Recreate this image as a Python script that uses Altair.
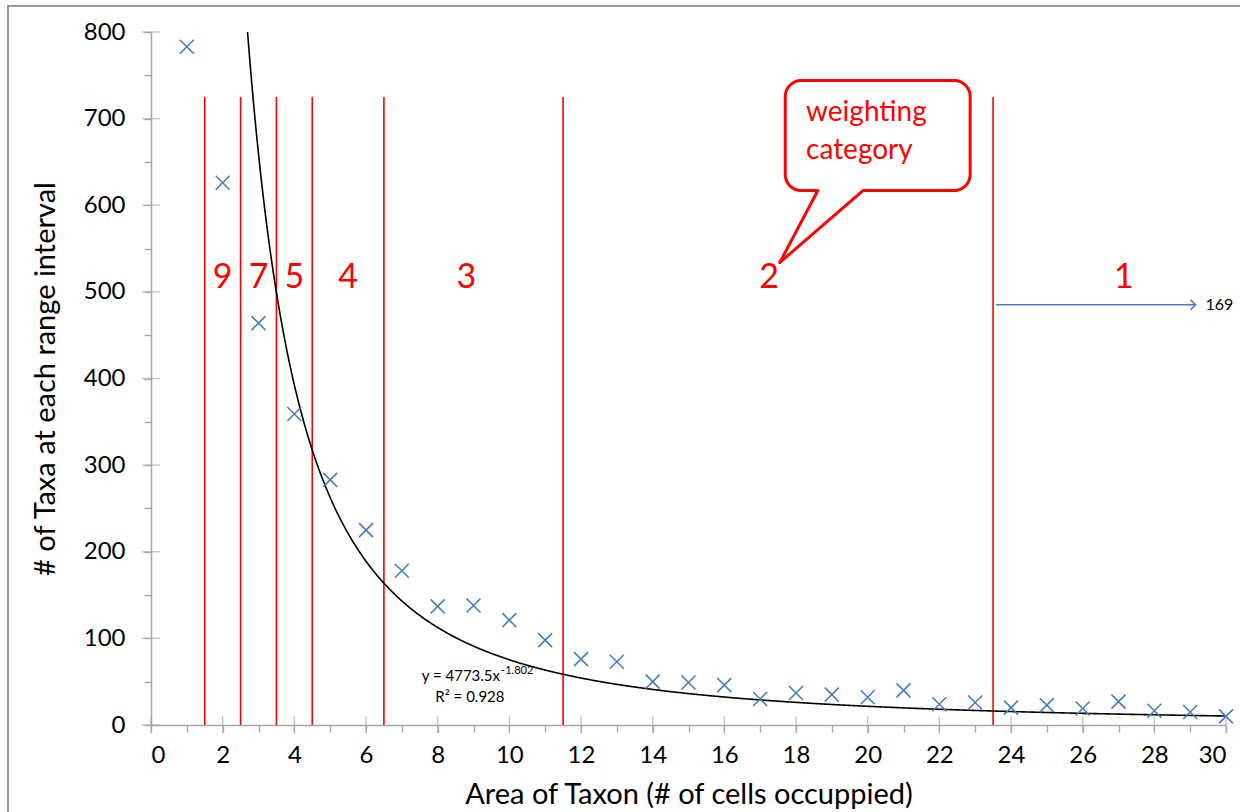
import altair as alt
import pandas as pd

# ---- data ----
area = list(range(1, 31))
taxa = [783, 626, 464, 359, 283, 225, 178, 137, 138, 121, 98, 76, 73, 50, 49,
        46, 30, 37, 35, 32, 40, 24, 26, 20, 23, 19, 27, 16.5, 15, 10]

# power trend line coefficients (as printed on chart)
fit_a = 4773.5
fit_b = -1.802

# weighting category boundaries and labels
boundaries = [1.5, 2.5, 3.5, 4.5, 6.5, 11.5, 23.5]
boundary_top = 725
cat_labels = ["9", "7", "5", "4", "3", "2", "1"]
cat_x = [2, 3, 4, 5.5, 8.8, 17.25, 27.15]
cat_y = 516

# arrow for category 1
arrow_x = [23.58, 29.15]
arrow_y = 485
arrow_label = "169"

# callout bubble
bubble_x = [17.7, 22.86]
bubble_y = [617, 744]
tail_base_x = [18.61, 19.87]
tail_tip = (17.55, 534)
bubble_text = ["weighting", "category"]
bubble_text_y = [707, 663]

# equation text
eq_main = "y = 4773.5x"
eq_sup = "-1.802"
eq_r2 = "R² = 0.928"

FONT = "Lato"
GRAY = "#a6a6a6"
BLUE = "#4a7ebb"
RED = "#ff0000"

xs = alt.Scale(domain=[0, 30], nice=False, zero=False)
ys = alt.Scale(domain=[0, 800], nice=False)

XT = "Area of Taxon (# of cells occuppied)"
YT = "# of Taxa at each range interval"

x_axis = alt.Axis(values=list(range(0, 31)), labelExpr="datum.value % 2 == 0 ? datum.label : ''",
                  title=XT, tickSize=7, labelPadding=11, labelFontSize=24, titleFontSize=29,
                  titlePadding=13, labelFont=FONT, titleFont=FONT, titleFontWeight="normal",
                  labelColor="black", titleColor="black", grid=False)
y_axis = alt.Axis(values=list(range(0, 801, 50)), labelExpr="datum.value % 100 == 0 ? datum.label : ''",
                  title=YT, tickSize=7, labelPadding=19, labelFontSize=24, titleFontSize=29,
                  titlePadding=23, labelFont=FONT, titleFont=FONT, titleFontWeight="normal",
                  labelColor="black", titleColor="black", grid=False)


def X(field="x"):
    return alt.X(f"{field}:Q", scale=xs, axis=x_axis, title=XT)


def Y(field="y"):
    return alt.Y(f"{field}:Q", scale=ys, axis=y_axis, title=YT)


pts_df = pd.DataFrame({"x": area, "y": taxa})

# frame around the chart area
frame = alt.Chart(pd.DataFrame({"a": [0]})).mark_rect(
    fill=None, stroke="#9a9a9a", strokeWidth=2
).encode(x=alt.value(-143), x2=alt.value(1260), y=alt.value(-26), y2=alt.value(800))

# red category boundary lines
bnd = alt.Chart(pd.DataFrame({"x": boundaries, "y": [0] * len(boundaries),
                              "y2": [boundary_top] * len(boundaries)})).mark_rule(
    color=RED, strokeWidth=1.6
).encode(x=X(), y=Y(), y2="y2:Q")

# trend line
curve = alt.Chart(alt.sequence(2.5, 30.02, 0.02, as_="x")).transform_calculate(
    y=f"{fit_a} * pow(datum.x, {fit_b})"
).mark_line(color="black", strokeWidth=1.6, clip=True).encode(x=X(), y=Y())

# data points (x-shaped markers)
points = alt.Chart(pts_df).mark_point(
    shape="M-1,-1L1,1M-1,1L1,-1", size=196, filled=False, color=BLUE, strokeWidth=1.6, opacity=1
).encode(x=X(), y=Y())

# major crossing ticks
xt_df = pd.DataFrame({"x": list(range(0, 31, 2)), "y": [0] * 16})
xticks = alt.Chart(xt_df).mark_tick(orient="vertical", size=17, thickness=1.3, color=GRAY
                                    ).encode(x=X(), y=Y())
yt_df = pd.DataFrame({"x": [0] * 9, "y": list(range(0, 801, 100))})
yticks = alt.Chart(yt_df).mark_tick(orient="horizontal", size=18, thickness=1.3, color=GRAY
                                    ).encode(x=X(), y=Y())

# category labels
cats = alt.Chart(pd.DataFrame({"x": cat_x, "y": [cat_y] * 7, "t": cat_labels})).mark_text(
    color=RED, fontSize=34, font=FONT, baseline="middle", align="center"
).encode(x=X(), y=Y(), text="t:N")

# arrow
arrow_line = alt.Chart(pd.DataFrame({"x": [arrow_x[0]], "x2": [arrow_x[1]], "y": [arrow_y]})).mark_rule(
    color=BLUE, strokeWidth=1.5
).encode(x=X(), x2="x2:Q", y=Y())
arrow_head = alt.Chart(pd.DataFrame({"x": [arrow_x[1]], "y": [arrow_y]})).mark_point(
    shape="M-1,-1L0,0L-1,1", size=100, filled=False, color=BLUE, strokeWidth=1.5, opacity=1
).encode(x=X(), y=Y())
arrow_txt = alt.Chart(pd.DataFrame({"x": [arrow_x[1]], "y": [arrow_y], "t": [arrow_label]})).mark_text(
    align="left", baseline="middle", dx=10, fontSize=16, font=FONT, color="black"
).encode(x=X(), y=Y(), text="t:N")

# callout bubble
bubble = alt.Chart(pd.DataFrame({"x": [bubble_x[0]], "x2": [bubble_x[1]],
                                 "y": [bubble_y[0]], "y2": [bubble_y[1]]})).mark_rect(
    fill="white", stroke=RED, strokeWidth=3, cornerRadius=16
).encode(x=X(), x2="x2:Q", y=Y(), y2="y2:Q")
tail_cover = alt.Chart(pd.DataFrame({"x": [tail_base_x[0]], "x2": [tail_base_x[1]],
                                     "y": [bubble_y[0]]})).mark_rule(
    color="white", strokeWidth=5
).encode(x=X(), x2="x2:Q", y=Y())
tail = alt.Chart(pd.DataFrame({"x": tail_base_x, "y": [bubble_y[0]] * 2,
                               "x2": [tail_tip[0]] * 2, "y2": [tail_tip[1]] * 2})).mark_rule(
    color=RED, strokeWidth=3, strokeCap="round"
).encode(x=X(), x2="x2:Q", y=Y(), y2="y2:Q")
bubble_txt = alt.Chart(pd.DataFrame({"x": [18.28] * 2, "y": bubble_text_y, "t": bubble_text})).mark_text(
    align="left", baseline="middle", fontSize=28, font=FONT, color=RED
).encode(x=X(), y=Y(), text="t:N")

# equation
eq1 = alt.Chart(pd.DataFrame({"x": [9.74], "y": [56.5], "t": [eq_main]})).mark_text(
    align="right", baseline="middle", fontSize=15, font=FONT, color="black"
).encode(x=X(), y=Y(), text="t:N")
eq2 = alt.Chart(pd.DataFrame({"x": [9.77], "y": [62.5], "t": [eq_sup]})).mark_text(
    align="left", baseline="middle", fontSize=11, font=FONT, color="black"
).encode(x=X(), y=Y(), text="t:N")
eq3 = alt.Chart(pd.DataFrame({"x": [8.9], "y": [32.3], "t": [eq_r2]})).mark_text(
    align="center", baseline="middle", fontSize=15, font=FONT, color="black"
).encode(x=X(), y=Y(), text="t:N")

chart = alt.layer(
    bnd, curve, points, xticks, yticks, cats, arrow_line, arrow_head, arrow_txt,
    bubble, tail_cover, tail, bubble_txt, eq1, eq2, eq3, frame
).properties(
    width=1075, height=693,
    autosize=alt.AutoSizeParams(type="none"),
    padding={"left": 151, "top": 32, "right": 14, "bottom": 87},
    background="white",
).configure_view(stroke=None).configure_axis(
    domainColor=GRAY, tickColor=GRAY, domainWidth=1.5, tickWidth=1.3
)

chart.save("out.html", embed_options={"renderer": "svg", "actions": False})
